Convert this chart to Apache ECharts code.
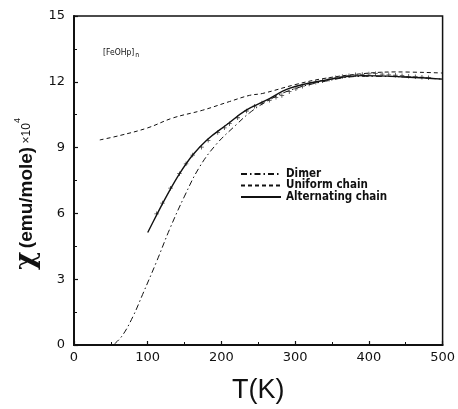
<!DOCTYPE html>
<html>
<head>
<meta charset="utf-8">
<script src="https://cdn.jsdelivr.net/npm/echarts@6/dist/echarts.min.js"></script>
<style>
html,body{margin:0;padding:0;background:#fff;}
#chart{width:458px;height:409px;}
</style>
</head>
<body>
<div id="chart"></div>
<script>
// ---- data ----
var seriesNames = ['Dimer', 'Uniform chain', 'Alternating chain'];

var dimerT   = [55, 66, 80, 93, 112, 130, 150, 170, 193, 220, 238, 261, 292, 337, 391, 450, 500];
var dimerChi = [0.05, 0.45, 1.3, 2.3, 3.8, 5.3, 6.79, 8.1, 9.15, 10.04, 10.58, 11.1, 11.6, 12.0, 12.25, 12.22, 12.12];

var uniformT   = [35, 62, 100, 134, 174, 211, 238, 256, 301, 337, 391, 436, 500];
var uniformChi = [9.35, 9.55, 9.9, 10.35, 10.7, 11.1, 11.38, 11.47, 11.88, 12.14, 12.37, 12.45, 12.4];

var altT   = [100, 112, 125, 143, 161, 181, 207, 233, 261, 292, 337, 391, 450, 500];
var altChi = [5.13, 5.92, 6.75, 7.8, 8.66, 9.37, 10.04, 10.7, 11.16, 11.7, 12.05, 12.28, 12.22, 12.12];

var expT   = [112, 120, 131, 143, 152, 161, 173, 182, 195, 204, 211, 222, 234, 245, 255, 265, 274, 282, 292, 301, 310, 319, 328, 337, 346, 355, 364, 373, 382, 391, 400, 409, 418, 427, 436, 445, 454, 463, 472, 481];
var expChi = [5.98, 6.47, 7.15, 7.81, 8.26, 8.66, 9.02, 9.33, 9.69, 9.9, 10.09, 10.36, 10.67, 10.89, 11.03, 11.16, 11.29, 11.38, 11.55, 11.68, 11.8, 11.9, 11.98, 12.05, 12.12, 12.18, 12.24, 12.28, 12.32, 12.33, 12.36, 12.37, 12.35, 12.32, 12.3, 12.28, 12.25, 12.23, 12.21, 12.19];

var xTicks = [0, 100, 200, 300, 400, 500];
var yTicks = [0, 3, 6, 9, 12, 15];
var compoundLabel = '[FeOHp]';

function pairs(xs, ys) { return xs.map(function (x, i) { return [x, ys[i]]; }); }

var chart = echarts.init(document.getElementById('chart'), null, {renderer: 'canvas'});
var ink = '#111';
var labelFont = 'DejaVu Sans';

chart.setOption({
  backgroundColor: '#fff',
  animation: false,
  grid: {left: 74, right: 14, top: 16, bottom: 57, show: true, borderColor: ink, borderWidth: 1.5, backgroundColor: 'transparent'},
  xAxis: {
    type: 'value', min: xTicks[0], max: xTicks[xTicks.length - 1], interval: 100,
    axisLine: {show: true, lineStyle: {color: ink, width: 2}},
    axisTick: {show: true, inside: true, length: 4, lineStyle: {color: ink, width: 1.2}},
    minorTick: {show: true, splitNumber: 2, length: 3, lineStyle: {color: ink, width: 1}},
    splitLine: {show: false},
    axisLabel: {color: ink, fontFamily: labelFont, fontSize: 13, margin: 6},
    name: 'T(K)', nameLocation: 'middle', nameGap: 32,
    nameTextStyle: {color: ink, fontFamily: 'Liberation Sans', fontSize: 27}
  },
  yAxis: {
    type: 'value', min: yTicks[0], max: yTicks[yTicks.length - 1], interval: 3,
    axisLine: {show: true, lineStyle: {color: ink, width: 2}},
    axisTick: {show: true, inside: true, length: 4, lineStyle: {color: ink, width: 1.2}},
    minorTick: {show: true, splitNumber: 2, length: 3, lineStyle: {color: ink, width: 1}},
    splitLine: {show: false},
    axisLabel: {color: ink, fontFamily: labelFont, fontSize: 13, margin: 9}
  },
  legend: {
    data: seriesNames, orient: 'vertical', left: 240, top: 168, padding: 0,
    itemWidth: 40, itemHeight: 10, itemGap: -0.5,
    itemStyle: {opacity: 0},
    textStyle: {color: ink, fontFamily: 'DejaVu Sans Condensed', fontWeight: 'bold', fontSize: 11.5, lineHeight: 10}
  },
  graphic: [
    {
      type: 'text', x: 27, y: 194, rotation: Math.PI / 2,
      style: {
        text: '{chi|χ} {par|(emu/mole)} {x|×10}{sup|4}',
        align: 'center', verticalAlign: 'middle', fill: ink,
        rich: {
          chi: {fontFamily: 'DejaVu Serif', fontSize: 28, fontWeight: 'bold', fill: ink},
          par: {fontFamily: 'Liberation Sans', fontSize: 19, fontWeight: 'bold', fill: ink},
          x: {fontFamily: 'Liberation Sans', fontSize: 12, fill: ink},
          sup: {fontFamily: 'Liberation Sans', fontSize: 9, fill: ink, verticalAlign: 'top', padding: [0, 0, 10, 0]}
        }
      }
    },
    {
      type: 'text', x: 103, y: 53,
      style: {
        text: '{m|' + compoundLabel + '}{s|n}',
        align: 'left', verticalAlign: 'middle', fill: ink,
        rich: {
          m: {fontFamily: 'DejaVu Sans Condensed', fontSize: 8.5, fill: ink},
          s: {fontFamily: 'DejaVu Sans Condensed', fontSize: 7, fill: ink, padding: [5, 0, 0, 1]}
        }
      }
    }
  ],
  series: [
    {
      name: seriesNames[0], type: 'line', smooth: 0.4, symbol: 'none',
      data: pairs(dimerT, dimerChi),
      lineStyle: {color: ink, width: 1, type: [6, 3, 1.5, 3]}, itemStyle: {color: ink}
    },
    {
      name: seriesNames[1], type: 'line', smooth: 0.4, symbol: 'none',
      data: pairs(uniformT, uniformChi),
      lineStyle: {color: ink, width: 1, type: [4, 3]}, itemStyle: {color: ink}
    },
    {
      name: seriesNames[2], type: 'line', smooth: 0.4, symbol: 'none',
      data: pairs(altT, altChi),
      lineStyle: {color: ink, width: 1.4, type: 'solid'}, itemStyle: {color: ink}
    },
    {
      name: 'data', type: 'scatter',
      symbol: 'path://M-1,-0.18H1V0.18H-1Z M-0.18,-1H0.18V1H-0.18Z',
      symbolSize: 4.5,
      data: pairs(expT, expChi),
      itemStyle: {color: ink}
    }
  ]
});
</script>
</body>
</html>
